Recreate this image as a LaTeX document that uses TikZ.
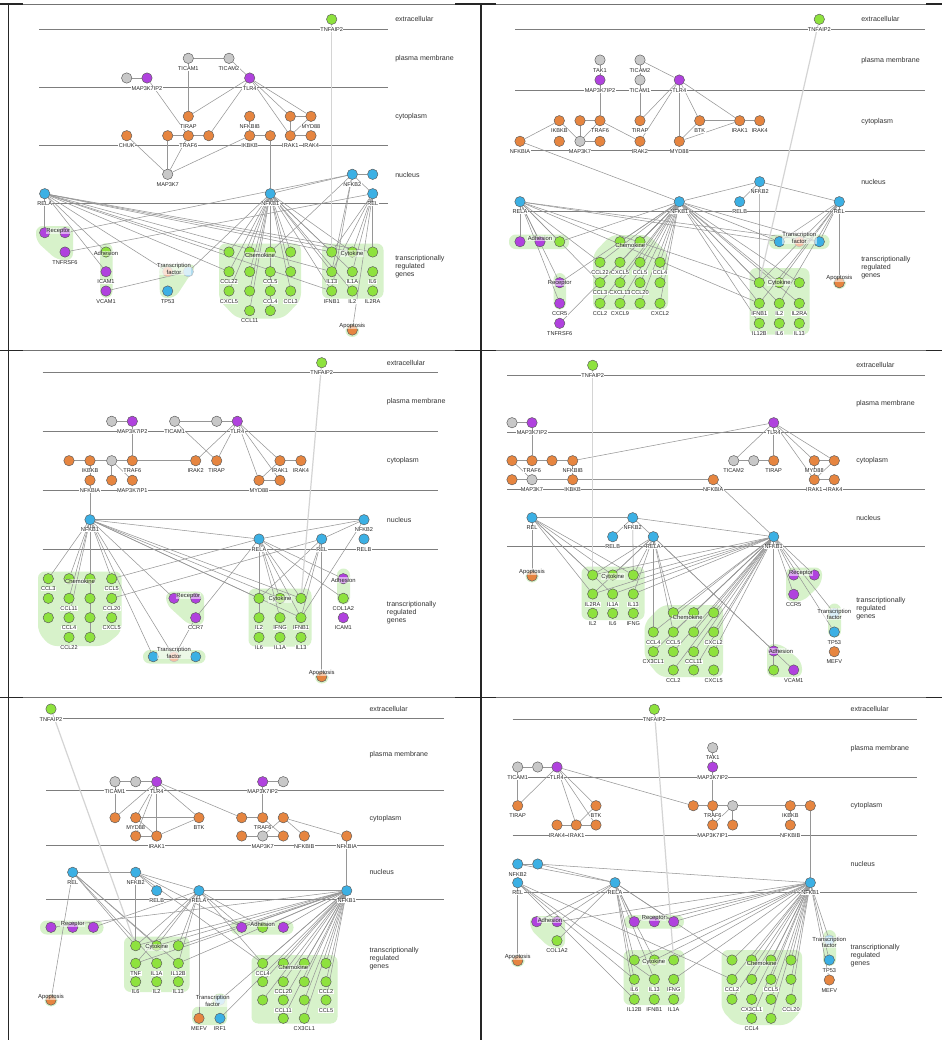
\documentclass[tikz,border=0pt]{standalone}
\usepackage{fontspec}
\setmainfont{Liberation Sans}
\definecolor{cgreen}{RGB}{142,226,62}
\definecolor{cpurple}{RGB}{176,66,222}
\definecolor{corange}{RGB}{230,133,64}
\definecolor{cblue}{RGB}{60,176,228}
\definecolor{cgray}{RGB}{200,200,200}
\definecolor{cgrp}{RGB}{215,242,202}
\definecolor{cedge}{RGB}{150,150,150}
\definecolor{clay}{RGB}{125,125,125}
\definecolor{cbord}{RGB}{90,90,90}
\definecolor{clorange}{RGB}{245,190,160}
\definecolor{clblue}{RGB}{175,220,240}
\pgfdeclarelayer{grp}\pgfdeclarelayer{edg}\pgfsetlayers{grp,edg,main}
\tikzset{
 gnode/.style={circle,minimum size=7.8pt,inner sep=0pt,draw=cbord,line width=0.35pt},
 Gn/.style={gnode,fill=cgreen}, Pu/.style={gnode,fill=cpurple}, Or/.style={gnode,fill=corange},
 Bl/.style={gnode,fill=cblue}, Gy/.style={gnode,fill=cgray},
 Lo/.style={gnode,fill=clorange,draw=cbord!40}, Lb/.style={gnode,fill=clblue,draw=cbord!40},
 lbl/.style={font=\fontsize{4.2}{4.6}\selectfont,inner sep=0.3pt,fill=white,text=black!85},
 Lay/.style={font=\fontsize{5.3}{5.9}\selectfont,anchor=west,align=left,text=black!80,inner sep=0pt},
 Grl/.style={font=\fontsize{4.4}{4.9}\selectfont,fill=white,fill opacity=0.55,text opacity=1,inner sep=0.4pt,align=center,text=black!85},
 ed/.style={draw=cedge,line width=0.4pt},
 tnf/.style={draw=black!17,line width=0.9pt},
 ll/.style={draw=clay,line width=0.6pt},
 gp/.style={fill=cgrp,rounded corners=5pt},
}
\newcommand\mkN[4]{\node[#1] (#2) at (#3,#4) {};}
\newcommand\mkL[5]{\node[#1,label={[lbl]below:#5}] (#2) at (#3,#4) {};}
\newcommand\links[1]{\foreach \ua/\vb in {#1}{\draw[ed] (\ua) -- (\vb);}}
\newcommand\fanout[2]{\foreach \tgt in {#2}{\draw[ed] (#1) -- (\tgt);}}
\newcommand\fanK[3]{\foreach \ii in {#3}{\draw[ed] (#1) -- (#2\ii);}}
\newcommand\laylines[6]{\foreach \yy in {#3,#4,#5,#6}{\draw[ll] (#1,\yy) -- (#2,\yy);}}
\newcommand\laylabels[7]{%
 \node[Lay] (#1-L1) at (#2,#3) {extracellular};
 \node[Lay] (#1-L2) at (#2,#4) {plasma membrane};
 \node[Lay] (#1-L3) at (#2,#5) {cytoplasm};
 \node[Lay] (#1-L4) at (#2,#6) {nucleus};
 \node[Lay] (#1-L5) at (#2,#7) {transcriptionally\\regulated\\genes};}
\begin{document}
\begin{tikzpicture}[x=0.75pt,y=-0.75pt,label distance=1.7pt]
\useasboundingbox (0,0) rectangle (942,1040);
\begin{pgfonlayer}{grp}
\fill[white] (0,0) rectangle (942,1040);
% frame
\foreach \yy in {4,350.5,697.5}{
 \draw[black!55,line width=0.7pt] (0,\yy) -- (942,\yy);
 \draw[black!85,line width=1.3pt] (0,\yy) -- (23,\yy) (455,\yy) -- (496,\yy) (926,\yy) -- (942,\yy);}
\draw[black!85,line width=1.1pt] (8.3,4) -- (8.3,1040) (481,4) -- (481,1040);
% layer lines
\laylines{39.3}{387.7}{29.3}{87.3}{145.3}{203.3}
\laylines{515}{925}{29.3}{90}{150.7}{211.7}
\laylines{42.7}{438.3}{372.3}{431.3}{490.3}{549}
\laylines{507}{925}{375}{432}{489.3}{546}
\laylines{46}{444}{718.3}{790.7}{845}{899.3}
\laylines{512.7}{917}{719}{777}{835}{892.7}
% groups A
\fill[gp] (36,226) -- (73,226) -- (73,260) -- (57,260) -- (36,241) -- cycle;
\fill[gp] (100,243) rectangle (112.5,298);
\fill[gp] (159,264.5) -- (197,264.5) -- (175,298) -- (160,298) -- cycle;
\fill[gp] (219,243.5) -- (301,243.5) -- (301,300) -- (283,318.5) -- (237,318.5) -- (219,300) -- cycle;
\fill[gp] (322,243.5) rectangle (383.5,298.5);
\fill[gp] (345.5,324) rectangle (359,337);
% groups B
\fill[gp] (509,234.5) rectangle (569,249);
\fill[gp] (553.5,273) rectangle (566,309.5);
\fill[gp] (611,235) -- (648,235) -- (668,253) -- (668,309.5) -- (593,309.5) -- (593,254) -- cycle;
\fill[gp] (769,234.5) rectangle (829.5,249);
\fill[gp] (749.5,268) rectangle (809.5,334.5);
\fill[gp] (833,277) rectangle (846,289);
% groups C
\fill[gp] (38,571.5) -- (121.5,571.5) -- (121.5,632) -- (104,646) -- (50,646) -- (38,632) -- cycle;
\fill[gp] (166,591.5) -- (204,591.5) -- (204,625) -- (189,625) -- (166,604) -- cycle;
\fill[gp] (143,650) rectangle (205.5,663.5);
\fill[gp] (248.5,588.5) rectangle (311.5,646.5);
\fill[gp] (337,568.5) rectangle (350,604.5);
\fill[gp] (315,671.5) rectangle (328.5,683.5);
% groups D
\fill[gp] (581.5,566.5) rectangle (644.5,620);
\fill[gp] (662,605) -- (723,605) -- (723,677) -- (660,677) -- (644.5,658) -- (644.5,623) -- cycle;
\fill[gp] (786,567.5) -- (822,567.5) -- (822,583) -- (803,601.5) -- (786,601.5) -- cycle;
\fill[gp] (828,603.5) rectangle (841,637.5);
\fill[gp] (767,644) -- (781,644) -- (802,662) -- (802,677) -- (767,677) -- cycle;
\fill[gp] (525.5,570) rectangle (538.5,582.5);
% groups E
\fill[gp] (40,920.5) rectangle (103.5,934.5);
\fill[gp] (230.5,920.5) rectangle (293.5,934.5);
\fill[gp] (124,936.5) rectangle (189.5,992);
\fill[gp] (251.5,955) rectangle (337.5,1023.5);
\fill[gp] (192,1006.5) -- (212,1006.5) -- (213,993.5) -- (227,993.5) -- (227,1025) -- (192,1025) -- cycle;
\fill[gp] (44.5,994) rectangle (57.5,1006.5);
% groups F
\fill[gp] (530,916) -- (565,916) -- (565,948) -- (550,948) -- (530,929) -- cycle;
\fill[gp] (624,915) rectangle (684,928.5);
\fill[gp] (623.5,950) rectangle (684.5,1005);
\fill[gp] (721.5,950) -- (802,950) -- (802,1010) -- (788,1025) -- (736,1025) -- (721.5,1010) -- cycle;
\fill[gp] (823,930) rectangle (836,966);
\fill[gp] (511,955) rectangle (524.5,967);
\end{pgfonlayer}
% layer labels
\laylabels{A}{395}{19.3}{58.7}{116.7}{174.7}{266.7}
\laylabels{B}{861}{19.3}{60.7}{121.3}{182}{268}
\laylabels{C}{386.7}{362.7}{402}{461}{519.7}{612.7}
\laylabels{D}{856}{365.3}{403.7}{461}{517.7}{608.3}
\laylabels{E}{369.3}{709}{755}{818.3}{872.3}{959}
\laylabels{F}{850.3}{709.3}{748.3}{806}{864}{956}
%================ PANEL A
\mkL{Gn}{A-TNFAIP2}{331.7}{19.3}{TNFAIP2}
\mkL{Gy}{A-TICAM1}{188.3}{58.3}{TICAM1}
\mkL{Gy}{A-TICAM2}{229}{58.3}{TICAM2}
\mkN{Gy}{A-g1}{126.7}{78}
\mkL{Pu}{A-MAP3K7IP2}{147}{78}{MAP3K7IP2}
\mkL{Pu}{A-TLR4}{249.7}{78}{TLR4}
\mkL{Or}{A-TIRAP}{188.3}{116.3}{TIRAP}
\mkL{Or}{A-NFKBIB}{249.7}{116.3}{NFKBIB}
\mkN{Or}{A-o1}{290.3}{116.3}
\mkL{Or}{A-MYD88}{311}{116.3}{MYD88}
\mkL{Or}{A-CHUK}{126.7}{135.7}{CHUK}
\mkN{Or}{A-o2}{167.7}{135.7}
\mkL{Or}{A-TRAF6}{188.3}{135.7}{TRAF6}
\mkN{Or}{A-o3}{208.7}{135.7}
\mkL{Or}{A-IKBKB}{249.7}{135.7}{IKBKB}
\mkN{Or}{A-o4}{270.3}{135.7}
\mkL{Or}{A-IRAK1}{290.3}{135.7}{IRAK1}
\mkL{Or}{A-IRAK4}{311}{135.7}{IRAK4}
\mkL{Gy}{A-MAP3K7}{167.7}{174.3}{MAP3K7}
\mkL{Bl}{A-NFKB2}{352.3}{174.3}{NFKB2}
\mkN{Bl}{A-b1}{372.7}{174.3}
\mkL{Bl}{A-RELA}{44.7}{193.7}{RELA}
\mkL{Bl}{A-NFKB1}{270.3}{193.7}{NFKB1}
\mkL{Bl}{A-REL}{372.7}{193.7}{REL}
\mkN{Pu}{A-R1}{44.7}{232.7}
\mkN{Pu}{A-R2}{65}{232.7}
\mkL{Pu}{A-TNFRSF6}{65}{252}{TNFRSF6}
\mkN{Gn}{A-AG}{106}{252}
\mkL{Pu}{A-ICAM1}{106}{271.7}{ICAM1}
\mkL{Pu}{A-VCAM1}{106}{291}{VCAM1}
\mkN{Lo}{A-TFo}{167.7}{271.7}
\mkN{Lb}{A-TFb}{188.3}{271.7}
\mkL{Bl}{A-TP53}{167.7}{291}{TP53}
\mkN{Gn}{A-K1}{229}{252} \mkN{Gn}{A-K2}{249.7}{252} \mkN{Gn}{A-K3}{270.3}{252} \mkN{Gn}{A-K4}{290.7}{252}
\mkL{Gn}{A-K5}{229}{271.7}{CCL22} \mkN{Gn}{A-K6}{249.7}{271.7} \mkL{Gn}{A-K7}{270.3}{271.7}{CCL5} \mkN{Gn}{A-K8}{290.7}{271.7}
\mkL{Gn}{A-K9}{229}{291}{CXCL5} \mkN{Gn}{A-K10}{249.7}{291} \mkL{Gn}{A-K11}{270.3}{291}{CCL4} \mkL{Gn}{A-K12}{290.7}{291}{CCL3}
\mkL{Gn}{A-K13}{249.7}{310.7}{CCL11} \mkN{Gn}{A-K14}{270.3}{310.7}
\mkN{Gn}{A-C1}{331.7}{252} \mkN{Gn}{A-C2}{352.3}{252} \mkN{Gn}{A-C3}{372.7}{252}
\mkL{Gn}{A-C4}{331.7}{271.7}{IL13} \mkL{Gn}{A-C5}{352.3}{271.7}{IL1A} \mkL{Gn}{A-C6}{372.7}{271.7}{IL6}
\mkL{Gn}{A-C7}{331.7}{291}{IFNB1} \mkL{Gn}{A-C8}{352.3}{291}{IL2} \mkL{Gn}{A-C9}{372.7}{291}{IL2RA}
\mkN{Or}{A-AP}{352.3}{330}
\node[Grl] (A-gR) at (58.3,230.7) {Receptor};
\node[Grl] (A-gA) at (106,253.7) {Adhesion};
\node[Grl] (A-gT) at (174,269) {Transcription\\factor};
\node[Grl] (A-gK) at (260,255) {Chemokine};
\node[Grl] (A-gC) at (352,253.7) {Cytokine};
\node[Grl] (A-gP) at (352.3,325.7) {Apoptosis};
%================ PANEL B
\mkL{Gn}{B-TNFAIP2}{819.3}{19.3}{TNFAIP2}
\mkL{Gy}{B-TAK1}{600}{60}{TAK1}
\mkL{Pu}{B-MAP3K7IP2}{600}{80}{MAP3K7IP2}
\mkL{Gy}{B-TICAM2}{640}{60}{TICAM2}
\mkL{Gy}{B-TICAM1}{640}{80}{TICAM1}
\mkL{Pu}{B-TLR4}{679.3}{80}{TLR4}
\mkL{Or}{B-IKBKB}{559.3}{120.7}{IKBKB}
\mkN{Or}{B-o1}{580}{120.7}
\mkL{Or}{B-TRAF6}{600}{120.7}{TRAF6}
\mkL{Or}{B-TIRAP}{640}{120.7}{TIRAP}
\mkL{Or}{B-BTK}{699.7}{120.7}{BTK}
\mkL{Or}{B-IRAK1}{739.7}{120.7}{IRAK1}
\mkL{Or}{B-IRAK4}{759.7}{120.7}{IRAK4}
\mkL{Or}{B-NFKBIA}{520}{141.3}{NFKBIA}
\mkN{Or}{B-o2}{559.3}{141.3}
\mkL{Gy}{B-MAP3K7}{580}{141.3}{MAP3K7}
\mkN{Or}{B-o3}{600}{141.3}
\mkL{Or}{B-IRAK2}{640}{141.3}{IRAK2}
\mkL{Or}{B-MYD88}{679.3}{141.3}{MYD88}
\mkL{Bl}{B-NFKB2}{759.7}{181.7}{NFKB2}
\mkL{Bl}{B-RELA}{520}{201.7}{RELA}
\mkL{Bl}{B-NFKB1}{679.3}{201.7}{NFKB1}
\mkL{Bl}{B-RELB}{739.7}{201.7}{RELB}
\mkL{Bl}{B-REL}{839.3}{201.7}{REL}
\mkN{Pu}{B-A1}{520}{241.7} \mkN{Pu}{B-A2}{540}{241.7} \mkN{Gn}{B-AG}{559.7}{241.7}
\mkN{Pu}{B-R1}{559.7}{282.7} \mkL{Pu}{B-CCR5}{559.7}{303.3}{CCR5} \mkL{Pu}{B-TNFRSF6}{559.7}{323.3}{TNFRSF6}
\mkN{Gn}{B-K1}{620}{241.7} \mkN{Gn}{B-K2}{640}{241.7}
\mkL{Gn}{B-K3}{600}{262.3}{CCL22} \mkL{Gn}{B-K4}{620}{262.3}{CXCL5} \mkL{Gn}{B-K5}{640}{262.3}{CCL5} \mkL{Gn}{B-K6}{660}{262.3}{CCL4}
\mkL{Gn}{B-K7}{600}{282.7}{CCL3} \mkL{Gn}{B-K8}{620}{282.7}{CXCL13} \mkL{Gn}{B-K9}{640}{282.7}{CCL20} \mkN{Gn}{B-K10}{660}{282.7}
\mkL{Gn}{B-K11}{600}{303.3}{CCL2} \mkL{Gn}{B-K12}{620}{303.3}{CXCL9} \mkN{Gn}{B-K13}{640}{303.3} \mkL{Gn}{B-K14}{660}{303.3}{CXCL2}
\mkN{Bl}{B-T1}{779.3}{241.7} \mkN{Lo}{B-To}{799.3}{241.7} \mkN{Bl}{B-T2}{819.3}{241.7}
\mkN{Gn}{B-C1}{759.3}{282.7} \mkN{Gn}{B-C2}{779.3}{282.7} \mkN{Gn}{B-C3}{799.3}{282.7}
\mkL{Gn}{B-C4}{759.3}{303.3}{IFNB1} \mkL{Gn}{B-C5}{779.3}{303.3}{IL2} \mkL{Gn}{B-C6}{799.3}{303.3}{IL2RA}
\mkL{Gn}{B-C7}{759.3}{323.3}{IL12B} \mkL{Gn}{B-C8}{779.3}{323.3}{IL6} \mkL{Gn}{B-C9}{799.3}{323.3}{IL13}
\mkN{Or}{B-AP}{839.3}{282.7}
\node[Grl] (B-gA) at (540,238.3) {Adhesion};
\node[Grl] (B-gR) at (559.7,282.7) {Receptor};
\node[Grl] (B-gK) at (630.3,245.7) {Chemokine};
\node[Grl] (B-gT) at (799.3,237.9) {Transcription\\factor};
\node[Grl] (B-gC) at (779.3,282.7) {Cytokine};
\node[Grl] (B-gP) at (839.3,278.3) {Apoptosis};
%================ PANEL C
\mkL{Gn}{C-TNFAIP2}{321.7}{362.7}{TNFAIP2}
\mkN{Gy}{C-g1}{111.7}{421.3}
\mkL{Pu}{C-MAP3K7IP2}{132.3}{421.3}{MAP3K7IP2}
\mkL{Gy}{C-TICAM1}{174.7}{421.3}{TICAM1}
\mkN{Gy}{C-g2}{216.7}{421.3}
\mkL{Pu}{C-TLR4}{237.3}{421.3}{TLR4}
\mkN{Or}{C-o1}{69}{460.7}
\mkL{Or}{C-IKBKB}{90}{460.7}{IKBKB}
\mkN{Gy}{C-g3}{111.7}{460.7}
\mkL{Or}{C-TRAF6}{132.3}{460.7}{TRAF6}
\mkL{Or}{C-IRAK2}{195.7}{460.7}{IRAK2}
\mkL{Or}{C-TIRAP}{216.7}{460.7}{TIRAP}
\mkL{Or}{C-IRAK1}{280}{460.7}{IRAK1}
\mkL{Or}{C-IRAK4}{301}{460.7}{IRAK4}
\mkL{Or}{C-NFKBIA}{90}{480.3}{NFKBIA}
\mkN{Or}{C-o2}{111.7}{480.3}
\mkL{Or}{C-MAP3K7IP1}{132.3}{480.3}{MAP3K7IP1}
\mkL{Or}{C-MYD88}{259}{480.3}{MYD88}
\mkN{Or}{C-o3}{280}{480.3}
\mkL{Bl}{C-NFKB1}{90}{519.7}{NFKB1}
\mkL{Bl}{C-NFKB2}{364}{519.7}{NFKB2}
\mkL{Bl}{C-RELA}{259}{539}{RELA}
\mkL{Bl}{C-REL}{321.7}{539}{REL}
\mkL{Bl}{C-RELB}{364}{539}{RELB}
\mkL{Gn}{C-K1}{48.3}{578.7}{CCL3} \mkN{Gn}{C-K2}{69}{578.7} \mkN{Gn}{C-K3}{90}{578.7} \mkL{Gn}{C-K4}{111.7}{578.7}{CCL5}
\mkN{Gn}{C-K5}{48.3}{598.3} \mkL{Gn}{C-K6}{69}{598.3}{CCL11} \mkN{Gn}{C-K7}{90}{598.3} \mkL{Gn}{C-K8}{111.7}{598.3}{CCL20}
\mkN{Gn}{C-K9}{48.3}{617.7} \mkL{Gn}{C-K10}{69}{617.7}{CCL4} \mkN{Gn}{C-K11}{90}{617.7} \mkL{Gn}{C-K12}{111.7}{617.7}{CXCL5}
\mkL{Gn}{C-K13}{69}{637.3}{CCL22} \mkN{Gn}{C-K14}{90}{637.3}
\mkN{Pu}{C-R1}{174}{598.3} \mkN{Pu}{C-R2}{195.7}{598.3} \mkL{Pu}{C-CCR7}{195.7}{617.7}{CCR7}
\mkN{Bl}{C-T1}{153.3}{656.7} \mkN{Lo}{C-To}{174}{656.7} \mkN{Bl}{C-T2}{195.7}{656.7}
\mkN{Gn}{C-C1}{259}{598.3} \mkN{Gn}{C-C2}{280}{598.3} \mkN{Gn}{C-C3}{301}{598.3}
\mkL{Gn}{C-C4}{259}{617.7}{IL2} \mkL{Gn}{C-C5}{280}{617.7}{IFNG} \mkL{Gn}{C-C6}{301}{617.7}{IFNB1}
\mkL{Gn}{C-C7}{259}{637.3}{IL6} \mkL{Gn}{C-C8}{280}{637.3}{IL1A} \mkL{Gn}{C-C9}{301}{637.3}{IL13}
\mkN{Pu}{C-A1}{343.3}{578.7} \mkL{Gn}{C-COL1A2}{343.3}{598.3}{COL1A2} \mkL{Pu}{C-ICAM1}{343.3}{617.7}{ICAM1}
\mkN{Or}{C-AP}{321.7}{676.7}
\node[Grl] (C-gK) at (80,581.3) {Chemokine};
\node[Grl] (C-gR) at (188.3,596) {Receptor};
\node[Grl] (C-gT) at (174,652.8) {Transcription\\factor};
\node[Grl] (C-gC) at (280,599.3) {Cytokine};
\node[Grl] (C-gA) at (343.3,580) {Adhesion};
\node[Grl] (C-gP) at (321.7,672.7) {Apoptosis};
%================ PANEL D
\mkL{Gn}{D-TNFAIP2}{592.7}{365.3}{TNFAIP2}
\mkN{Gy}{D-g1}{512}{422.7}
\mkL{Pu}{D-MAP3K7IP2}{532}{422.7}{MAP3K7IP2}
\mkL{Pu}{D-TLR4}{773.7}{422.7}{TLR4}
\mkN{Or}{D-o1}{512}{460.7}
\mkL{Or}{D-TRAF6}{532}{460.7}{TRAF6}
\mkN{Or}{D-o2}{552}{460.7}
\mkL{Or}{D-NFKBIB}{572.7}{460.7}{NFKBIB}
\mkL{Gy}{D-TICAM2}{733.7}{460.7}{TICAM2}
\mkN{Gy}{D-g2}{753.7}{460.7}
\mkL{Or}{D-TIRAP}{773.7}{460.7}{TIRAP}
\mkL{Or}{D-MYD88}{814.3}{460.7}{MYD88}
\mkN{Or}{D-o3}{834.3}{460.7}
\mkN{Or}{D-o4}{512}{479.7}
\mkL{Gy}{D-MAP3K7}{532}{479.7}{MAP3K7}
\mkL{Or}{D-IKBKB}{572.7}{479.7}{IKBKB}
\mkL{Or}{D-NFKBIA}{713.3}{479.7}{NFKBIA}
\mkL{Or}{D-IRAK1}{814.3}{479.7}{IRAK1}
\mkL{Or}{D-IRAK4}{834.3}{479.7}{IRAK4}
\mkL{Bl}{D-REL}{532}{517.7}{REL}
\mkL{Bl}{D-NFKB2}{632.7}{517.7}{NFKB2}
\mkL{Bl}{D-RELB}{612.7}{536.7}{RELB}
\mkL{Bl}{D-RELA}{653.3}{536.7}{RELA}
\mkL{Bl}{D-NFKB1}{773.7}{536.7}{NFKB1}
\mkN{Or}{D-AP}{532}{576}
\mkN{Gn}{D-C1}{592.7}{575} \mkN{Gn}{D-C2}{612.7}{575} \mkN{Gn}{D-C3}{633.3}{575}
\mkL{Gn}{D-C4}{592.7}{594}{IL2RA} \mkL{Gn}{D-C5}{612.7}{594}{IL1A} \mkL{Gn}{D-C6}{633.3}{594}{IL13}
\mkL{Gn}{D-C7}{592.7}{613.3}{IL2} \mkL{Gn}{D-C8}{612.7}{613.3}{IL6} \mkL{Gn}{D-C9}{633.3}{613.3}{IFNG}
\mkN{Gn}{D-K1}{673.3}{612.7} \mkN{Gn}{D-K2}{693.7}{612.7} \mkN{Gn}{D-K3}{713.7}{612.7}
\mkL{Gn}{D-K4}{653.3}{632}{CCL4} \mkL{Gn}{D-K5}{673.3}{632}{CCL5} \mkN{Gn}{D-K6}{693.7}{632} \mkL{Gn}{D-K7}{713.7}{632}{CXCL2}
\mkL{Gn}{D-K8}{653.3}{651.7}{CX3CL1} \mkN{Gn}{D-K9}{673.3}{651.7} \mkL{Gn}{D-K10}{693.7}{651.7}{CCL11} \mkN{Gn}{D-K11}{713.7}{651.7}
\mkL{Gn}{D-K12}{673.3}{670}{CCL2} \mkN{Gn}{D-K13}{693.7}{670} \mkL{Gn}{D-K14}{713.7}{670}{CXCL5}
\mkN{Pu}{D-R1}{793.7}{575} \mkN{Pu}{D-R2}{814.3}{575} \mkL{Pu}{D-CCR5}{793.7}{594.3}{CCR5}
\mkN{Lb}{D-Tb}{834.3}{613.3} \mkL{Bl}{D-TP53}{834.3}{632}{TP53} \mkL{Or}{D-MEFV}{834.3}{651.7}{MEFV}
\mkN{Pu}{D-A1}{773.7}{651} \mkN{Gn}{D-AG}{773.7}{670} \mkL{Pu}{D-VCAM1}{793.7}{670}{VCAM1}
\node[Grl] (D-gP) at (532,571.7) {Apoptosis};
\node[Grl] (D-gC) at (612.7,576.7) {Cytokine};
\node[Grl] (D-gK) at (687.7,617.7) {Chemokine};
\node[Grl] (D-gR) at (801,572.7) {Receptor};
\node[Grl] (D-gT) at (834.3,614.3) {Transcription\\factor};
\node[Grl] (D-gA) at (781,651) {Adhesion};
%================ PANEL E
\mkL{Gn}{E-TNFAIP2}{51}{709}{TNFAIP2}
\mkL{Gy}{E-TICAM1}{115}{781.7}{TICAM1}
\mkN{Gy}{E-g1}{135.7}{781.7}
\mkL{Pu}{E-TLR4}{156.7}{781.7}{TLR4}
\mkL{Pu}{E-MAP3K7IP2}{262.7}{781.7}{MAP3K7IP2}
\mkN{Gy}{E-g2}{283.3}{781.7}
\mkN{Or}{E-o1}{115}{817.7}
\mkL{Or}{E-MYD88}{135.7}{817.7}{MYD88}
\mkL{Or}{E-BTK}{199}{817.7}{BTK}
\mkN{Or}{E-o2}{241.7}{817.7}
\mkL{Or}{E-TRAF6}{262.7}{817.7}{TRAF6}
\mkN{Or}{E-o3}{283.3}{817.7}
\mkN{Or}{E-o4}{135.7}{836}
\mkL{Or}{E-IRAK1}{156.7}{836}{IRAK1}
\mkN{Or}{E-o5}{241.7}{836}
\mkL{Gy}{E-MAP3K7}{262.7}{836}{MAP3K7}
\mkN{Or}{E-o6}{283.3}{836}
\mkL{Or}{E-NFKBIB}{304.3}{836}{NFKBIB}
\mkL{Or}{E-NFKBIA}{346.7}{836}{NFKBIA}
\mkL{Bl}{E-REL}{72.7}{872.3}{REL}
\mkL{Bl}{E-NFKB2}{135.7}{872.3}{NFKB2}
\mkL{Bl}{E-RELB}{156.7}{890.7}{RELB}
\mkL{Bl}{E-RELA}{199}{890.7}{RELA}
\mkL{Bl}{E-NFKB1}{346.7}{890.7}{NFKB1}
\mkN{Pu}{E-R1}{51}{927.3} \mkN{Pu}{E-R2}{72.7}{927.3} \mkN{Pu}{E-R3}{93.3}{927.3}
\mkN{Pu}{E-A1}{241.7}{927.3} \mkN{Gn}{E-AG}{262.7}{927.3} \mkN{Pu}{E-A2}{283.3}{927.3}
\mkN{Gn}{E-C1}{135.7}{945.7} \mkN{Gn}{E-C2}{156.7}{945.7} \mkN{Gn}{E-C3}{178.3}{945.7}
\mkL{Gn}{E-C4}{135.7}{963.3}{TNF} \mkL{Gn}{E-C5}{156.7}{963.3}{IL1A} \mkL{Gn}{E-C6}{178.3}{963.3}{IL12B}
\mkL{Gn}{E-C7}{135.7}{981.7}{IL6} \mkL{Gn}{E-C8}{156.7}{981.7}{IL2} \mkL{Gn}{E-C9}{178.3}{981.7}{IL13}
\mkL{Gn}{E-K1}{262.7}{963.3}{CCL4} \mkN{Gn}{E-K2}{283.3}{963.3} \mkN{Gn}{E-K3}{304.3}{963.3} \mkN{Gn}{E-K4}{326}{963.3}
\mkN{Gn}{E-K5}{262.7}{981.7} \mkL{Gn}{E-K6}{283.3}{981.7}{CCL20} \mkN{Gn}{E-K7}{304.3}{981.7} \mkL{Gn}{E-K8}{326}{981.7}{CCL2}
\mkN{Gn}{E-K9}{262.7}{1000} \mkL{Gn}{E-K10}{283.3}{1000}{CCL11} \mkN{Gn}{E-K11}{304.3}{1000} \mkL{Gn}{E-K12}{326}{1000}{CCL5}
\mkN{Gn}{E-K13}{283.3}{1018.3} \mkL{Gn}{E-K14}{304.3}{1018.3}{CX3CL1}
\mkN{Lb}{E-Tb}{220}{1000} \mkL{Or}{E-MEFV}{199}{1018.3}{MEFV} \mkL{Bl}{E-IRF1}{220}{1018.3}{IRF1}
\mkN{Or}{E-AP}{51}{1000}
\node[Grl] (E-gR) at (72.7,924) {Receptor};
\node[Grl] (E-gA) at (262.7,924) {Adhesion};
\node[Grl] (E-gC) at (156.7,947.3) {Cytokine};
\node[Grl] (E-gK) at (293.3,967.7) {Chemokine};
\node[Grl] (E-gT) at (212.7,1000.7) {Transcription\\factor};
\node[Grl] (E-gP) at (51,996.7) {Apoptosis};
%================ PANEL F
\mkL{Gn}{F-TNFAIP2}{654.3}{709.3}{TNFAIP2}
\mkL{Gy}{F-TAK1}{712.7}{747.7}{TAK1}
\mkL{Pu}{F-MAP3K7IP2}{712.7}{767}{MAP3K7IP2}
\mkL{Gy}{F-TICAM1}{517.7}{767}{TICAM1}
\mkN{Gy}{F-g1}{537.7}{767}
\mkL{Pu}{F-TLR4}{557}{767}{TLR4}
\mkL{Or}{F-TIRAP}{517.7}{805.7}{TIRAP}
\mkL{Or}{F-BTK}{596}{805.7}{BTK}
\mkN{Or}{F-o1}{693.3}{805.7}
\mkL{Or}{F-TRAF6}{712.7}{805.7}{TRAF6}
\mkN{Gy}{F-g2}{732.7}{805.7}
\mkL{Or}{F-IKBKB}{790.3}{805.7}{IKBKB}
\mkN{Or}{F-o2}{810.3}{805.7}
\mkL{Or}{F-IRAK4}{557}{825}{IRAK4}
\mkL{Or}{F-IRAK1}{576.3}{825}{IRAK1}
\mkN{Or}{F-o3}{596}{825}
\mkL{Or}{F-MAP3K7IP1}{712.7}{825}{MAP3K7IP1}
\mkN{Or}{F-o4}{732.7}{825}
\mkL{Or}{F-NFKBIB}{790.3}{825}{NFKBIB}
\mkL{Bl}{F-NFKB2}{517.7}{864}{NFKB2}
\mkN{Bl}{F-b1}{537.7}{864}
\mkL{Bl}{F-REL}{517.7}{882.7}{REL}
\mkL{Bl}{F-RELA}{615}{882.7}{RELA}
\mkL{Bl}{F-NFKB1}{810.3}{882.7}{NFKB1}
\mkN{Pu}{F-A1}{536.7}{921.7} \mkN{Pu}{F-A2}{557}{921.7} \mkL{Gn}{F-COL1A2}{557}{940.7}{COL1A2}
\mkN{Or}{F-AP}{517.7}{960.7}
\mkN{Pu}{F-R1}{634.3}{921.7} \mkN{Pu}{F-R2}{654.3}{921.7} \mkN{Pu}{F-R3}{673.7}{921.7}
\mkN{Gn}{F-C1}{634.3}{960} \mkN{Gn}{F-C2}{654.3}{960} \mkN{Gn}{F-C3}{673.7}{960}
\mkL{Gn}{F-C4}{634.3}{979.3}{IL6} \mkL{Gn}{F-C5}{654.3}{979.3}{IL13} \mkL{Gn}{F-C6}{673.7}{979.3}{IFNG}
\mkL{Gn}{F-C7}{634.3}{999.3}{IL12B} \mkL{Gn}{F-C8}{654.3}{999.3}{IFNB1} \mkL{Gn}{F-C9}{673.7}{999.3}{IL1A}
\mkN{Gn}{F-K1}{732}{960} \mkN{Gn}{F-K2}{751.7}{960} \mkN{Gn}{F-K3}{771}{960} \mkN{Gn}{F-K4}{791}{960}
\mkL{Gn}{F-K5}{732}{979.3}{CCL2} \mkN{Gn}{F-K6}{751.7}{979.3} \mkL{Gn}{F-K7}{771}{979.3}{CCL5} \mkN{Gn}{F-K8}{791}{979.3}
\mkN{Gn}{F-K9}{732}{999.3} \mkL{Gn}{F-K10}{751.7}{999.3}{CX3CL1} \mkN{Gn}{F-K11}{771}{999.3} \mkL{Gn}{F-K12}{791}{999.3}{CCL20}
\mkL{Gn}{F-K13}{751.7}{1018.3}{CCL4} \mkN{Gn}{F-K14}{771}{1018.3}
\mkN{Lb}{F-Tb}{829.3}{940} \mkL{Bl}{F-TP53}{829.3}{960}{TP53} \mkL{Or}{F-MEFV}{829.3}{980}{MEFV}
\node[Grl] (F-gA) at (550,920) {Adhesion};
\node[Grl] (F-gR) at (653.7,918.3) {Receptor};
\node[Grl] (F-gC) at (653.7,962) {Cytokine};
\node[Grl] (F-gK) at (761.7,963.3) {Chemokine};
\node[Grl] (F-gT) at (829.3,942.5) {Transcription\\factor};
\node[Grl] (F-gP) at (517.7,956.7) {Apoptosis};
%================ EDGES
\begin{pgfonlayer}{edg}
% A
\links{A-TICAM1/A-TICAM2, A-TICAM2/A-TLR4, A-g1/A-MAP3K7IP2, A-TICAM1/A-TIRAP, A-TLR4/A-TIRAP, A-MAP3K7IP2/A-TRAF6, A-TLR4/A-o3, A-TLR4/A-o1, A-TLR4/A-MYD88, A-TLR4/A-IRAK1, A-o1/A-MYD88, A-o1/A-IRAK1, A-MYD88/A-IRAK1, A-IRAK1/A-IRAK4, A-o2/A-o3, A-NFKBIB/A-IKBKB, A-IKBKB/A-o4, A-CHUK/A-MAP3K7, A-o2/A-MAP3K7, A-TRAF6/A-MAP3K7, A-IKBKB/A-MAP3K7, A-o4/A-NFKB1, A-NFKB1/A-NFKB2, A-NFKB2/A-b1, A-NFKB2/A-REL, A-VCAM1/A-TFb}
\fanout{A-RELA}{A-R1,A-AG,A-ICAM1,A-TFo,A-K1,A-K5,A-C1,A-C2,A-C3,A-C4,A-C7}
\fanK{A-NFKB1}{A-K}{1,...,14}
\fanout{A-NFKB1}{A-TFb,A-C1,A-C2,A-C4,A-C5,A-C7,A-C8}
\fanout{A-REL}{A-C1,A-C2,A-C3,A-C4,A-C5,A-AP,A-TNFRSF6}
\fanout{A-NFKB2}{A-C4,A-C7,A-K3,A-R2}
\draw[tnf] (A-TNFAIP2) -- (A-C1);
% B
\links{B-TAK1/B-MAP3K7IP2, B-TICAM2/B-TICAM1, B-TICAM2/B-TLR4, B-MAP3K7IP2/B-TRAF6, B-TICAM1/B-TIRAP, B-TLR4/B-TIRAP, B-TLR4/B-IRAK2, B-TLR4/B-BTK, B-TLR4/B-MYD88, B-TLR4/B-IRAK1, B-BTK/B-MYD88, B-BTK/B-IRAK1, B-MYD88/B-IRAK1, B-IRAK1/B-IRAK4, B-NFKBIA/B-IKBKB, B-IKBKB/B-MAP3K7, B-o1/B-TRAF6, B-o1/B-MAP3K7, B-MAP3K7/B-o3, B-MAP3K7/B-TRAF6, B-TRAF6/B-IRAK2, B-NFKBIA/B-NFKB1, B-NFKB2/B-NFKB1, B-NFKB2/B-RELB, B-NFKB2/B-REL, B-NFKB2/B-C1}
\fanout{B-RELA}{B-A1,B-A2,B-AG,B-R1,B-CCR5,B-K3,B-K7,B-T1,B-T2,B-C1,B-C4}
\fanK{B-NFKB1}{B-K}{1,...,14}
\fanout{B-NFKB1}{B-AG,B-R1,B-TNFRSF6,B-T1,B-T2,B-C1,B-C2,B-C3,B-C4,B-C5,B-C6,B-C7}
\fanout{B-REL}{B-T1,B-T2,B-C1,B-C2,B-C4,B-C5,B-AP}
\draw[tnf] (B-TNFAIP2) -- (B-C1);
% C
\links{C-g1/C-MAP3K7IP2, C-TICAM1/C-g2, C-g2/C-TLR4, C-MAP3K7IP2/C-TRAF6, C-o1/C-IKBKB, C-IKBKB/C-g3, C-g3/C-TRAF6, C-TRAF6/C-IRAK2, C-IKBKB/C-NFKBIA, C-g3/C-o2, C-g3/C-MAP3K7IP1, C-TICAM1/C-TIRAP, C-TLR4/C-IRAK2, C-TLR4/C-TIRAP, C-TLR4/C-MYD88, C-TLR4/C-IRAK1, C-TLR4/C-o3, C-MYD88/C-o3, C-MYD88/C-IRAK1, C-IRAK1/C-IRAK4, C-NFKBIA/C-NFKB1, C-NFKB1/C-NFKB2, C-NFKB1/C-RELA, C-NFKB2/C-REL, C-NFKB2/C-RELA, C-CCR7/C-To}
\fanK{C-NFKB1}{C-K}{1,2,3,4,6,7,10,11,14}
\fanout{C-NFKB1}{C-R1,C-T1,C-To,C-C1,C-C2,C-C3,C-C6}
\fanout{C-RELA}{C-K4,C-CCR7,C-C1,C-C2,C-C3,C-C4,C-C5,C-C6,C-A1,C-COL1A2}
\fanout{C-REL}{C-C1,C-C3,C-C6,C-AP,C-K8}
\fanout{C-NFKB2}{C-C6}
\draw[tnf] (C-TNFAIP2) -- (C-C3);
% D
\links{D-g1/D-MAP3K7IP2, D-MAP3K7IP2/D-TRAF6, D-o1/D-TRAF6, D-TRAF6/D-o2, D-o2/D-NFKBIB, D-o1/D-MAP3K7, D-o4/D-MAP3K7, D-MAP3K7/D-IKBKB, D-NFKBIB/D-IKBKB, D-IKBKB/D-NFKBIA, D-NFKBIB/D-TLR4, D-TLR4/D-TICAM2, D-TICAM2/D-g2, D-g2/D-TIRAP, D-TLR4/D-TIRAP, D-TLR4/D-MYD88, D-TLR4/D-o3, D-TLR4/D-IRAK1, D-MYD88/D-o3, D-o3/D-IRAK1, D-MYD88/D-IRAK1, D-IRAK1/D-IRAK4, D-NFKBIA/D-NFKB1, D-REL/D-NFKB2, D-NFKB2/D-RELB, D-NFKB2/D-RELA, D-NFKB2/D-NFKB1}
\fanout{D-REL}{D-C1,D-C2,D-C3,D-C4,D-C5,D-AP}
\fanout{D-NFKB2}{D-C3}
\fanout{D-RELA}{D-C1,D-C2,D-C3,D-C4,D-C6,D-K1,D-K4,D-K5,D-A1,D-VCAM1}
\fanK{D-NFKB1}{D-K}{1,...,13}
\fanout{D-NFKB1}{D-C1,D-C3,D-C4,D-C5,D-C6,D-R1,D-R2,D-CCR5,D-Tb,D-TP53,D-AG}
\draw[tnf] (D-TNFAIP2) -- (D-C1);
% E
\links{E-TICAM1/E-g1, E-g1/E-TLR4, E-TICAM1/E-o1, E-TLR4/E-o1, E-TLR4/E-MYD88, E-TLR4/E-o4, E-TLR4/E-IRAK1, E-TLR4/E-BTK, E-TLR4/E-o2, E-MYD88/E-IRAK1, E-MYD88/E-BTK, E-o4/E-IRAK1, E-IRAK1/E-BTK, E-MAP3K7IP2/E-g2, E-MAP3K7IP2/E-TRAF6, E-o2/E-TRAF6, E-o5/E-MAP3K7, E-MAP3K7/E-o6, E-TRAF6/E-o6, E-o3/E-MAP3K7, E-o3/E-NFKBIB, E-o3/E-NFKBIA, E-NFKBIA/E-NFKB1, E-REL/E-NFKB2, E-NFKB2/E-RELB, E-NFKB2/E-RELA}
\fanout{E-REL}{E-C1,E-C2,E-C5,E-C6,E-AP}
\fanout{E-NFKB2}{E-C1,E-A1,E-K1}
\fanout{E-RELA}{E-R3,E-C1,E-C2,E-C3,E-C4,E-C6,E-MEFV,E-K1,E-A1,E-AG}
\fanK{E-NFKB1}{E-K}{1,...,14}
\fanout{E-NFKB1}{E-R1,E-A1,E-AG,E-A2,E-C1,E-C2,E-C3,E-C4,E-C6,E-Tb,E-IRF1,E-RELA}
\draw[tnf] (E-TNFAIP2) -- (E-C1);
% F
\links{F-TAK1/F-MAP3K7IP2, F-MAP3K7IP2/F-TRAF6, F-TICAM1/F-g1, F-g1/F-TLR4, F-TICAM1/F-TIRAP, F-TLR4/F-TIRAP, F-TLR4/F-o1, F-TLR4/F-IRAK1, F-TLR4/F-o3, F-TLR4/F-BTK, F-IRAK4/F-IRAK1, F-IRAK1/F-o3, F-IRAK1/F-BTK, F-o1/F-TRAF6, F-TRAF6/F-g2, F-g2/F-IKBKB, F-IKBKB/F-o2, F-IKBKB/F-NFKBIB, F-TRAF6/F-MAP3K7IP1, F-g2/F-o4, F-g2/F-MAP3K7IP1, F-o2/F-NFKB1, F-NFKB2/F-b1, F-b1/F-RELA, F-NFKB2/F-RELA, F-b1/F-NFKB1}
\fanout{F-REL}{F-AP,F-C4,F-C7,F-C5,F-K5}
\fanout{F-RELA}{F-A1,F-A2,F-COL1A2,F-R1,F-C1,F-C4,F-C7,F-C2,F-C5,F-K1,F-R3}
\fanK{F-NFKB1}{F-K}{1,...,14}
\fanout{F-NFKB1}{F-R1,F-R2,F-R3,F-A2,F-C1,F-C2,F-C3,F-C6,F-Tb,F-TP53,F-MEFV}
\draw[tnf] (F-TNFAIP2) -- (F-C3);
\end{pgfonlayer}
\end{tikzpicture}
\end{document}
